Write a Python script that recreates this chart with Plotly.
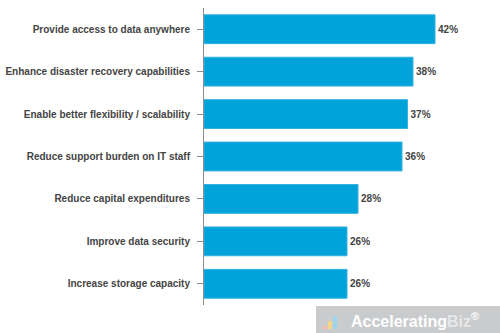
import plotly.graph_objects as go

# Survey responses: reasons for adopting cloud storage
categories = [
    "Provide access to data anywhere",
    "Enhance disaster recovery capabilities",
    "Enable better flexibility / scalability",
    "Reduce support burden on IT staff",
    "Reduce capital expenditures",
    "Improve data security",
    "Increase storage capacity",
]
values = [42, 38, 37, 36, 28, 26, 26]
value_labels = [f"<b>{v}%</b>" for v in values]

W, H = 500, 333
ML, MR, MT, MB = 204, 21, 8, 28
plot_w = W - ML - MR
plot_h = H - MT - MB


def px_x(p):
    return (p - ML) / plot_w


def px_y(p):
    return (H - MB - p) / plot_h


fig = go.Figure(
    go.Bar(
        x=values,
        y=categories,
        orientation="h",
        marker=dict(color="#00A3D9", line=dict(color="#35B2E2", width=1)),
        text=value_labels,
        textposition="outside",
        cliponaxis=False,
        textfont=dict(family="Liberation Sans", size=10, color="#444444"),
        hoverinfo="skip",
    )
)

fig.update_layout(
    width=W,
    height=H,
    margin=dict(l=ML, r=MR, t=MT, b=MB, pad=0),
    paper_bgcolor="white",
    plot_bgcolor="white",
    bargap=0.32,
    showlegend=False,
    font=dict(family="Liberation Sans"),
    xaxis=dict(
        range=[0, 50],
        visible=False,
        fixedrange=True,
    ),
    yaxis=dict(
        autorange="reversed",
        automargin=False,
        showline=True,
        linecolor="#8c8c8c",
        linewidth=1,
        ticks="outside",
        ticklen=6,
        tickcolor="#8c8c8c",
        tickwidth=1,
        showgrid=False,
        ticklabelstandoff=5,
        tickfont=dict(family="Liberation Sans", size=10, color="#444444", weight="bold"),
        fixedrange=True,
    ),
)

# Branding strip in the lower-right corner
fig.add_shape(
    type="rect", xref="paper", yref="paper",
    x0=px_x(316), x1=px_x(500), y0=px_y(333), y1=px_y(306),
    fillcolor="#c9cbcd", line=dict(width=0), layer="above",
)
# Small bar-chart logo
logo = [(323, 327, 326, "#f3b9a8"), (328, 332, 321, "#f6d48a"), (333, 337, 316, "#9fd6ee")]
for x0, x1, top, col in logo:
    fig.add_shape(
        type="rect", xref="paper", yref="paper",
        x0=px_x(x0), x1=px_x(x1), y0=px_y(329), y1=px_y(top),
        fillcolor=col, line=dict(width=0), layer="above",
    )
fig.add_annotation(
    xref="paper", yref="paper",
    x=px_x(349), y=px_y(319.5),
    xanchor="left", yanchor="middle",
    text="Accelerating<span style='color:#e6e7e8'>Biz</span><sup>®</sup>",
    showarrow=False,
    font=dict(family="Liberation Sans", size=16, color="white", weight="bold"),
)

fig.write_html("out.html")
